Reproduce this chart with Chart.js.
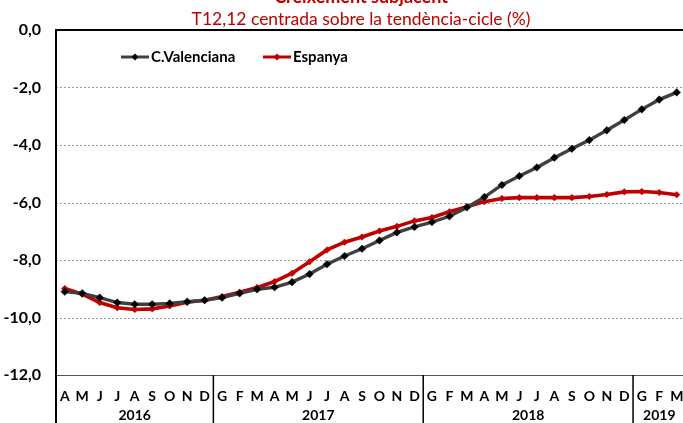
<!DOCTYPE html>
<html><head><meta charset="utf-8">
<script src="https://cdn.jsdelivr.net/npm/chart.js@4.4.1/dist/chart.umd.min.js"></script>
<style>
html,body{margin:0;padding:0;overflow:hidden;background:#fff;width:683px;height:423px}
#wrap{position:absolute;left:0;top:0;width:690px;height:423px}
</style>
</head><body><div id="wrap"><canvas id="c" width="690" height="423"></canvas></div>
<script>
const titleLines = ['Creixement subjacent', 'T12,12 centrada sobre la tendència-cicle (%)'];
const months = ['A','M','J','J','A','S','O','N','D','G','F','M','A','M','J','J','A','S','O','N','D','G','F','M','A','M','J','J','A','S','O','N','D','G','F','M'];
const years = ['2016','2017','2018','2019'];
const yearSpans = [9, 12, 12, 3];
const seriesNames = ['C.Valenciana', 'Espanya'];
const cValenciana = [-9.10,-9.16,-9.31,-9.48,-9.54,-9.54,-9.51,-9.45,-9.40,-9.31,-9.16,-9.02,-8.95,-8.77,-8.49,-8.15,-7.86,-7.61,-7.32,-7.04,-6.85,-6.68,-6.48,-6.17,-5.81,-5.39,-5.08,-4.78,-4.44,-4.13,-3.83,-3.49,-3.13,-2.76,-2.42,-2.17];
const espanya = [-8.99,-9.19,-9.48,-9.66,-9.72,-9.70,-9.60,-9.47,-9.40,-9.27,-9.12,-8.96,-8.75,-8.46,-8.06,-7.65,-7.38,-7.20,-6.99,-6.83,-6.64,-6.52,-6.32,-6.15,-5.97,-5.86,-5.83,-5.83,-5.83,-5.83,-5.79,-5.72,-5.63,-5.62,-5.65,-5.73];
const yMin = -12, yMax = 0, yStep = 2;

const FONT = 'Lato';
const decor = {
  id: 'decor',
  beforeDatasetsDraw(chart) {
    const {ctx, chartArea: a, scales: {y}} = chart;
    ctx.save();
    ctx.strokeStyle = '#9A9A9A'; ctx.lineWidth = 1; ctx.setLineDash([2, 2]);
    y.ticks.forEach(t => {
      if (t.value === yMax || t.value === yMin) return;
      const py = Math.round(y.getPixelForValue(t.value)) + 0.5;
      ctx.beginPath(); ctx.moveTo(a.left, py); ctx.lineTo(a.right, py); ctx.stroke();
    });
    ctx.restore();
  },
  afterDraw(chart) {
    const {ctx, chartArea: a, scales: {x, y}} = chart;
    ctx.save();
    ctx.strokeStyle = '#000'; ctx.lineWidth = 2;
    const y0 = Math.round(y.getPixelForValue(0));
    ctx.beginPath(); ctx.moveTo(a.left - 1, y0); ctx.lineTo(a.right, y0); ctx.stroke();
    ctx.beginPath(); ctx.moveTo(a.left, a.top); ctx.lineTo(a.left, chart.height); ctx.stroke();
    ctx.fillStyle = '#000'; ctx.font = 'bold 14px ' + FONT;
    ctx.textAlign = 'center'; ctx.textBaseline = 'middle';
    let idx = 0;
    years.forEach((yr, i) => {
      const start = idx, end = idx + yearSpans[i] - 1;
      const xl = i === 0 ? a.left : (x.getPixelForValue(start - 1) + x.getPixelForValue(start)) / 2;
      const xr = end === months.length - 1 ? a.right : (x.getPixelForValue(end) + x.getPixelForValue(end + 1)) / 2;
      if (i > 0) {
        ctx.lineWidth = 1.5; ctx.strokeStyle = '#000';
        ctx.beginPath(); ctx.moveTo(xl, a.bottom); ctx.lineTo(xl, chart.height); ctx.stroke();
      }
      ctx.fillText(yr, (xl + xr) / 2, 415);
      idx += yearSpans[i];
    });
    ctx.fillStyle = '#C00000';
    ctx.font = 'bold 18px ' + FONT;
    ctx.fillText(titleLines[0], 361, -3);
    ctx.font = '17.5px ' + FONT;
    ctx.fillText(titleLines[1], 361, 19);
    const lx = [121, 263], ly = 57;
    chart.data.datasets.forEach((ds, i) => {
      ctx.strokeStyle = ds.borderColor; ctx.lineWidth = 3;
      ctx.beginPath(); ctx.moveTo(lx[i], ly); ctx.lineTo(lx[i] + 28, ly); ctx.stroke();
      const cx = lx[i] + 14, r = 3.5;
      ctx.fillStyle = ds.pointBackgroundColor;
      ctx.beginPath(); ctx.moveTo(cx, ly - r); ctx.lineTo(cx + r, ly); ctx.lineTo(cx, ly + r); ctx.lineTo(cx - r, ly); ctx.closePath(); ctx.fill();
      ctx.fillStyle = '#000'; ctx.font = 'bold 15px ' + FONT; ctx.textAlign = 'left';
      ctx.fillText(ds.label, lx[i] + 30, ly);
    });
    ctx.restore();
  }
};

new Chart(document.getElementById('c'), {
  type: 'line',
  data: {
    labels: months,
    datasets: [
      {label: seriesNames[0], data: cValenciana, borderColor: '#404040', backgroundColor: '#000',
       pointBackgroundColor: '#000', pointBorderColor: '#000', pointStyle: 'rectRot', pointRadius: 3.8, pointBorderWidth: 0.5, borderWidth: 3.4, tension: 0},
      {label: seriesNames[1], data: espanya, borderColor: '#C00000', backgroundColor: '#C00000',
       pointBackgroundColor: '#C00000', pointBorderColor: '#C00000', pointStyle: 'rectRot', pointRadius: 3.3, pointBorderWidth: 0.5, borderWidth: 3.6, tension: 0}
    ]
  },
  options: {
    responsive: false, animation: false, devicePixelRatio: 1,
    layout: {padding: {left: 0, right: 4, top: 30, bottom: 0}},
    plugins: {legend: {display: false}, title: {display: false}, tooltip: {enabled: false}},
    scales: {
      x: {
        offset: true,
        grid: {display: false},
        border: {display: true, color: '#555', width: 1},
        ticks: {autoSkip: false, maxRotation: 0, minRotation: 0, padding: 5, color: '#000', font: {family: FONT, weight: 'bold', size: 14}},
        afterFit(s) { s.height = 48; }
      },
      y: {
        min: yMin, max: yMax,
        grid: {display: false, drawTicks: false},
        border: {display: true, color: '#000', width: 2},
        ticks: {stepSize: yStep, padding: 15, color: '#000', font: {family: FONT, weight: 'bold', size: 16},
          callback: v => v.toFixed(1).replace('.', ',')},
        afterFit(s) { s.width = 56; }
      }
    }
  },
  plugins: [decor]
});
</script>
</body></html>
